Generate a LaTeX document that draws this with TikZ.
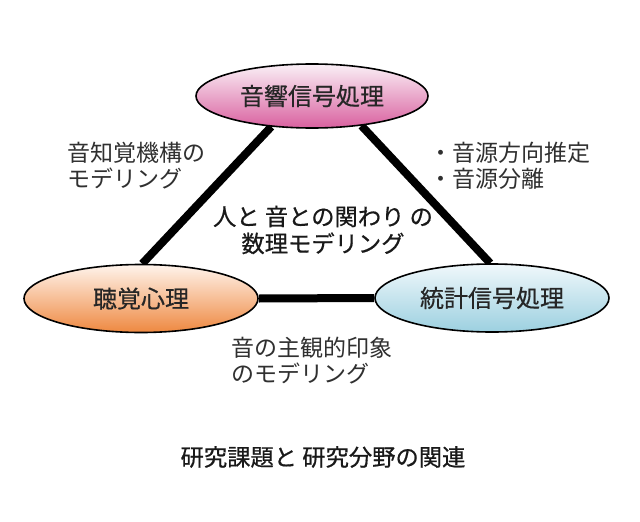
\documentclass[tikz,border=0pt]{standalone}
\usepackage{fontspec}
\newfontfamily\jp{Noto Sans CJK JP}
\newfontfamily\jpm[FakeBold=0.6]{Noto Sans CJK JP}
\usetikzlibrary{shapes.geometric,backgrounds}
\definecolor{pinkT}{HTML}{FAF0F6}
\definecolor{pinkB}{HTML}{D9609F}
\definecolor{orT}{HTML}{FFF4EC}
\definecolor{orB}{HTML}{EE8840}
\definecolor{blT}{HTML}{F0F8FB}
\definecolor{blB}{HTML}{9CD0E0}
\definecolor{labgray}{HTML}{303030}
\tikzset{
  field/.style={ellipse, draw=black, line width=1.6pt, inner sep=0pt,
    minimum width=234pt, minimum height=68pt,
    font=\jpm\fontsize{24}{27}\selectfont, text=black!85},
  link/.style={line width=8pt, line cap=butt},
  note/.style={font=\jp\fontsize{23}{26}\selectfont, text=labgray, inner sep=0pt},
  title/.style={font=\jpm\fontsize{23.3}{27}\selectfont, text=black!90, inner sep=0pt, align=center}
}
\begin{document}
\begin{tikzpicture}[x=1pt,y=-1pt]
\useasboundingbox (0,0) rectangle (640,522);
\node[field, minimum width=232pt, minimum height=64pt, top color=pinkT, bottom color=pinkB] (acou) at (312,96) {音響信号処理};
\node[field, top color=orT, bottom color=orB] (psy) at (141,298.5) {聴覚心理};
\node[field, top color=blT, bottom color=blB] (stat) at (492,298) {統計信号処理};
\begin{pgfonlayer}{background}
\fill[white] (0,0) rectangle (640,522);
\draw[link] (acou.217) -- (psy.88);
\draw[link] (acou.329) -- (stat.93);
\draw[link] (psy.east) -- (stat.west);
\end{pgfonlayer}
\node[note, anchor=west, align=left] (n1) at (67,166) {音知覚機構の\\モデリング};
\node[note, anchor=west, align=left] (n2) at (429,166) {・音源方向推定\\・音源分離};
\node[note, anchor=west, align=left] (n3) at (231,361) {音の主観的印象\\のモデリング};
\node[title] (center) at (323,230) {人と 音との関わり の\\数理モデリング};
\node[title] (cap) at (323,457) {研究課題と 研究分野の関連};
\end{tikzpicture}
\end{document}
